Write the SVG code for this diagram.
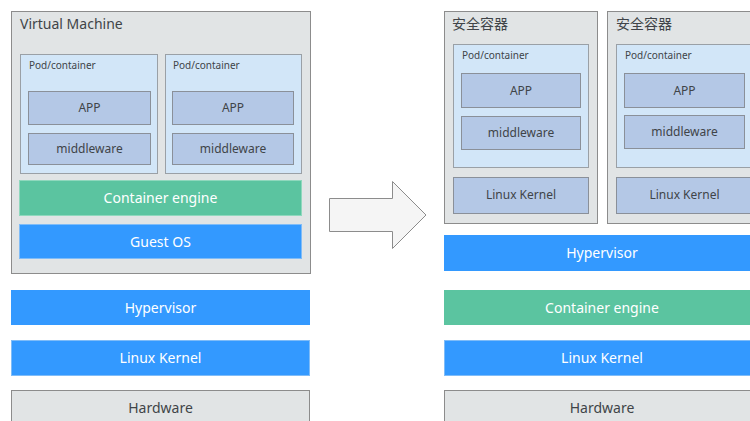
<svg xmlns="http://www.w3.org/2000/svg" width="750" height="421" viewBox="0 0 750 421">
<style>
text{font-family:"Noto Sans","Noto Sans CJK SC",sans-serif;}
.gray{fill:#e1e4e5;stroke:#8c8c8c;stroke-width:1}
.pod{fill:#d2e6f8;stroke:#9aa0a6;stroke-width:1}
.inner{fill:#b4c8e6;stroke:#8a9099;stroke-width:1}
.green{fill:#5bc4a0;stroke:#8fd8bd;stroke-width:1}
.blue{fill:#3399ff;stroke:#7fbcf8;stroke-width:1}
.dk{fill:#404448;font-size:12px;text-anchor:middle}
.wt{fill:#ffffff;font-size:14px;text-anchor:middle}
.lbl{fill:#404448;font-size:14px}
.plbl{fill:#404448;font-size:10px}
.hw{fill:#404448;font-size:14px;text-anchor:middle}
</style>
<rect width="750" height="421" fill="#ffffff"/>

<g id="vm">
<rect class="gray" x="11.5" y="11.5" width="299" height="262"/>
<text class="lbl" x="20" y="29">Virtual Machine</text>
</g>
<g id="vm-pod1">
<rect class="pod" x="20.5" y="54.5" width="137" height="119"/>
<text class="plbl" x="29" y="69">Pod/container</text>
</g>
<g id="vm-pod1-app"><rect class="inner" x="28.5" y="91.5" width="122" height="33"/><text class="dk" x="89.5" y="112">APP</text></g>
<g id="vm-pod1-mw"><rect class="inner" x="28.5" y="133.5" width="122" height="31"/><text class="dk" x="89.5" y="153">middleware</text></g>
<g id="vm-pod2">
<rect class="pod" x="165.5" y="54.5" width="136" height="119"/>
<text class="plbl" x="173" y="69">Pod/container</text>
</g>
<g id="vm-pod2-app"><rect class="inner" x="172.5" y="91.5" width="121" height="33"/><text class="dk" x="233" y="112">APP</text></g>
<g id="vm-pod2-mw"><rect class="inner" x="172.5" y="133.5" width="121" height="31"/><text class="dk" x="233" y="153">middleware</text></g>
<g id="vm-engine"><rect class="green" x="19.5" y="180.5" width="282" height="35"/><text class="wt" x="160.5" y="203">Container engine</text></g>
<g id="vm-guestos"><rect class="blue" x="19.5" y="224.5" width="282" height="34"/><text class="wt" x="160.5" y="247">Guest OS</text></g>

<g id="l-hypervisor"><rect x="11" y="290" width="299" height="35" fill="#3399ff"/><text class="wt" x="160.5" y="313">Hypervisor</text></g>
<g id="l-kernel"><rect class="blue" x="11.5" y="340.5" width="298" height="35"/><text class="wt" x="160.5" y="363">Linux Kernel</text></g>
<g id="l-hardware"><rect class="gray" x="11.5" y="390.5" width="298" height="40"/><text class="hw" x="160.5" y="413">Hardware</text></g>

<g id="connectors">
<polygon points="329.5,198.5 392.5,198.5 392.5,181.5 426,215 392.5,248.5 392.5,231.5 329.5,231.5" fill="#f5f5f5" stroke="#8c8c8c" stroke-width="1"/>
</g>

<g id="sc1">
<rect class="gray" x="444.5" y="11.5" width="153" height="212"/>
<text class="lbl" x="452" y="29">安全容器</text>
</g>
<g id="sc1-pod">
<rect class="pod" x="453.5" y="44.5" width="135" height="123"/>
<text class="plbl" x="462" y="59">Pod/container</text>
</g>
<g id="sc1-app"><rect class="inner" x="461.5" y="73.5" width="119" height="34"/><text class="dk" x="521" y="95">APP</text></g>
<g id="sc1-mw"><rect class="inner" x="461.5" y="116.5" width="119" height="33"/><text class="dk" x="521" y="137">middleware</text></g>
<g id="sc1-kernel"><rect class="inner" x="453.5" y="177.5" width="135" height="36"/><text class="dk" x="521" y="199">Linux Kernel</text></g>

<g id="sc2">
<rect class="gray" x="607.5" y="11.5" width="160" height="212"/>
<text class="lbl" x="616" y="29">安全容器</text>
</g>
<g id="sc2-pod">
<rect class="pod" x="616.5" y="44.5" width="150" height="123"/>
<text class="plbl" x="625" y="59">Pod/container</text>
</g>
<g id="sc2-app"><rect class="inner" x="624.5" y="73.5" width="120" height="34"/><text class="dk" x="684.5" y="95">APP</text></g>
<g id="sc2-mw"><rect class="inner" x="624.5" y="115.5" width="120" height="33"/><text class="dk" x="684.5" y="136">middleware</text></g>
<g id="sc2-kernel"><rect class="inner" x="616.5" y="177.5" width="150" height="36"/><text class="dk" x="684.5" y="199">Linux Kernel</text></g>

<g id="r-hypervisor"><rect x="444" y="235" width="310" height="36" fill="#3399ff"/><text class="wt" x="602" y="258">Hypervisor</text></g>
<g id="r-engine"><rect x="444" y="290" width="310" height="35" fill="#5bc4a0"/><text class="wt" x="602" y="313">Container engine</text></g>
<g id="r-kernel"><rect class="blue" x="444.5" y="340.5" width="310" height="35"/><text class="wt" x="602" y="363">Linux Kernel</text></g>
<g id="r-hardware"><rect class="gray" x="444.5" y="390.5" width="310" height="40"/><text class="hw" x="602" y="413">Hardware</text></g>
</svg>
